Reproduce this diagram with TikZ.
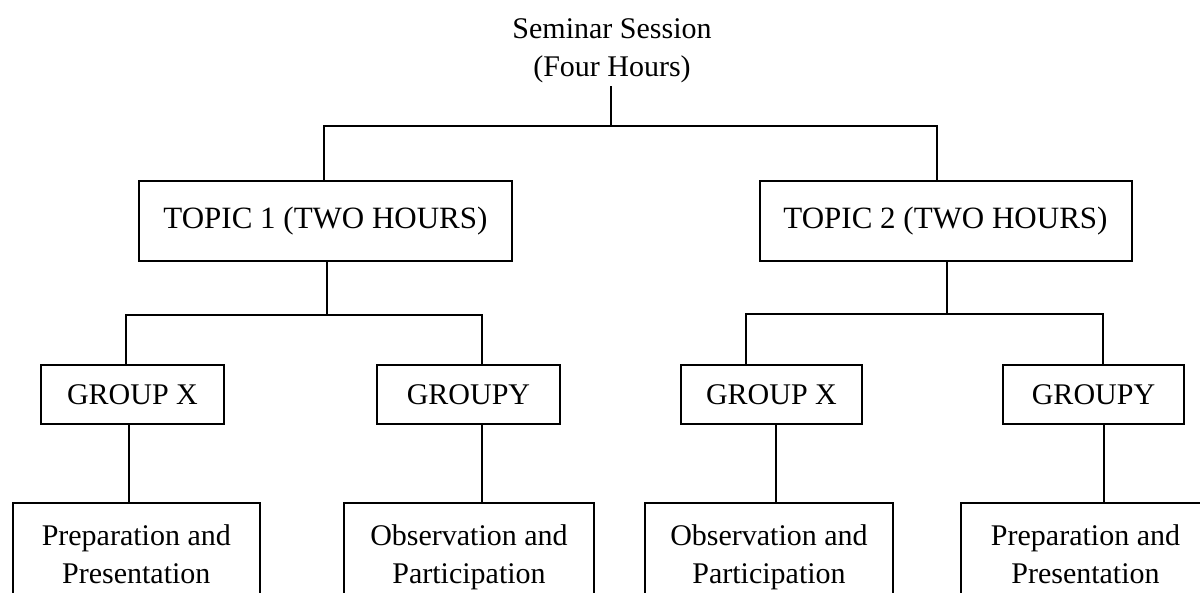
\documentclass[tikz,border=0pt]{standalone}
\usepackage{fontspec}
\setmainfont{Liberation Serif}
\begin{document}
\begin{tikzpicture}[x=1pt,y=-1pt,
  every node/.style={font=\fontsize{30}{38}\selectfont, inner sep=0pt},
  box/.style={draw, line width=2pt, rectangle, align=center},
  topicbox/.style={box, font=\fontsize{31}{38}\selectfont, minimum height=80pt},
  groupbox/.style={box, minimum height=59pt, text height=20pt, text depth=0pt},
  leafbox/.style={box, anchor=north, inner ysep=21.5pt},
  conn/.style={line width=2pt}]
\useasboundingbox (0,0) rectangle (1200,592);

% title
\node[align=center, anchor=north] (title) at (612,18.5) {Seminar Session\\(Four Hours)};

% topics
\node[topicbox, minimum width=373pt] (t1) at (325.5,221) {TOPIC 1 (TWO HOURS)};
\node[topicbox, minimum width=372pt] (t2) at (945.5,221) {TOPIC 2 (TWO HOURS)};

% groups
\node[groupbox, minimum width=183pt] (gx1) at (132.5,394.5) {GROUP X};
\node[groupbox, minimum width=183pt] (gy1) at (468.5,394.5) {GROUP\hspace{-0.25em} Y};
\node[groupbox, minimum width=181pt] (gx2) at (771.5,394.5) {GROUP X};
\node[groupbox, minimum width=181pt] (gy2) at (1093.5,394.5) {GROUP\hspace{-0.25em} Y};

% leaves
\node[leafbox, minimum width=247pt] (b1) at (136.3,502) {Preparation and\\Presentation};
\node[leafbox, minimum width=250pt] (b2) at (469,502) {Observation and\\Participation};
\node[leafbox, minimum width=248pt] (b3) at (769,502) {Observation and\\Participation};
\node[leafbox, minimum width=249pt] (b4) at (1085.5,502) {Preparation and\\Presentation};

% junctions
\coordinate (j0) at (611,126);
\coordinate (j1) at (327,315);
\coordinate (j2) at (947,314);

% connectors
\draw[conn] ([yshift=-3pt]title.south -| j0) -- (j0);
\draw[conn] ([xshift=-1.5pt]t1.north) |- (j0) -| ([xshift=-8.5pt]t2.north);

\draw[conn] ([xshift=1.5pt]t1.south) -- (j1);
\draw[conn] ([xshift=-6.5pt]gx1.north) |- (j1) -| ([xshift=13.5pt]gy1.north);

\draw[conn] ([xshift=1.5pt]t2.south) -- (j2);
\draw[conn] ([xshift=-25.5pt]gx2.north) |- (j2) -| ([xshift=9.5pt]gy2.north);

\draw[conn] ([xshift=-4pt]gx1.south) -- ([xshift=-4pt]gx1.south |- b1.north);
\draw[conn] ([xshift=13.5pt]gy1.south) -- ([xshift=13.5pt]gy1.south |- b2.north);
\draw[conn] ([xshift=4.5pt]gx2.south) -- ([xshift=4.5pt]gx2.south |- b3.north);
\draw[conn] ([xshift=10.5pt]gy2.south) -- ([xshift=10.5pt]gy2.south |- b4.north);
\end{tikzpicture}
\end{document}
